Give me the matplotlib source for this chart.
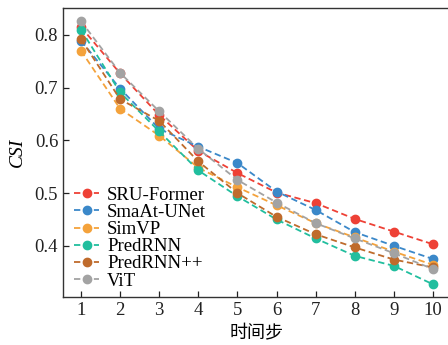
import matplotlib
matplotlib.use("Agg")
import matplotlib.pyplot as plt

steps = [1, 2, 3, 4, 5, 6, 7, 8, 9, 10]
sru_former = [0.815, 0.727, 0.648, 0.580, 0.538, 0.501, 0.481, 0.451, 0.427, 0.403]
smaat_unet = [0.789, 0.698, 0.622, 0.588, 0.557, 0.503, 0.468, 0.426, 0.400, 0.375]
simvp = [0.770, 0.660, 0.609, 0.548, 0.511, 0.477, 0.443, 0.416, 0.389, 0.364]
predrnn = [0.810, 0.691, 0.617, 0.543, 0.494, 0.450, 0.414, 0.381, 0.362, 0.327]
predrnnpp = [0.792, 0.678, 0.637, 0.560, 0.500, 0.455, 0.422, 0.397, 0.374, 0.359]
vit = [0.826, 0.728, 0.655, 0.584, 0.525, 0.482, 0.443, 0.414, 0.386, 0.356]

labels = ["SRU-Former", "SmaAt-UNet", "SimVP", "PredRNN", "PredRNN++", "ViT"]
colors = ["#EE4136", "#3B88C9", "#F4A23B", "#21BE9E", "#BF6B2C", "#A3A3A3"]
series = [sru_former, smaat_unet, simvp, predrnn, predrnnpp, vit]

plt.rcParams['font.family'] = ['Liberation Serif', 'DejaVu Serif']

fig = plt.figure(figsize=(4.48, 3.45), dpi=100)
ax = fig.add_axes([63/448, 48/345, (451-63)/448, (297-8)/345])

for vals, lab, c in zip(series, labels, colors):
    ax.plot(steps, vals, linestyle=(0, (3.5, 2)), color=c, lw=1.3,
            marker='o', markersize=6, label=lab)

ax.set_xlim(0.54, 10.46)
ax.set_ylim(0.303, 0.851)
ax.set_xticks(steps)
ax.set_yticks([0.4, 0.5, 0.6, 0.7, 0.8])
ax.set_yticklabels(["0.4", "0.5", "0.6", "0.7", "0.8"])
ax.tick_params(direction='in', length=4.5, width=0.9, labelsize=13.5, colors='#222222')
for s in ax.spines.values():
    s.set_color('#333333')
    s.set_linewidth(1.0)

ax.set_ylabel("CSI", fontsize=14, style='italic', labelpad=6)
ax.set_xlabel("时间步", fontsize=13, family=['Noto Sans CJK SC', 'DejaVu Sans'], labelpad=4)

leg = ax.legend(loc='lower left', frameon=False, fontsize=13.5,
                handlelength=1.3, handletextpad=0.45, labelspacing=0.0,
                borderaxespad=0.0, bbox_to_anchor=(0.01, 0.0))

fig.savefig("out.png", dpi=100)
